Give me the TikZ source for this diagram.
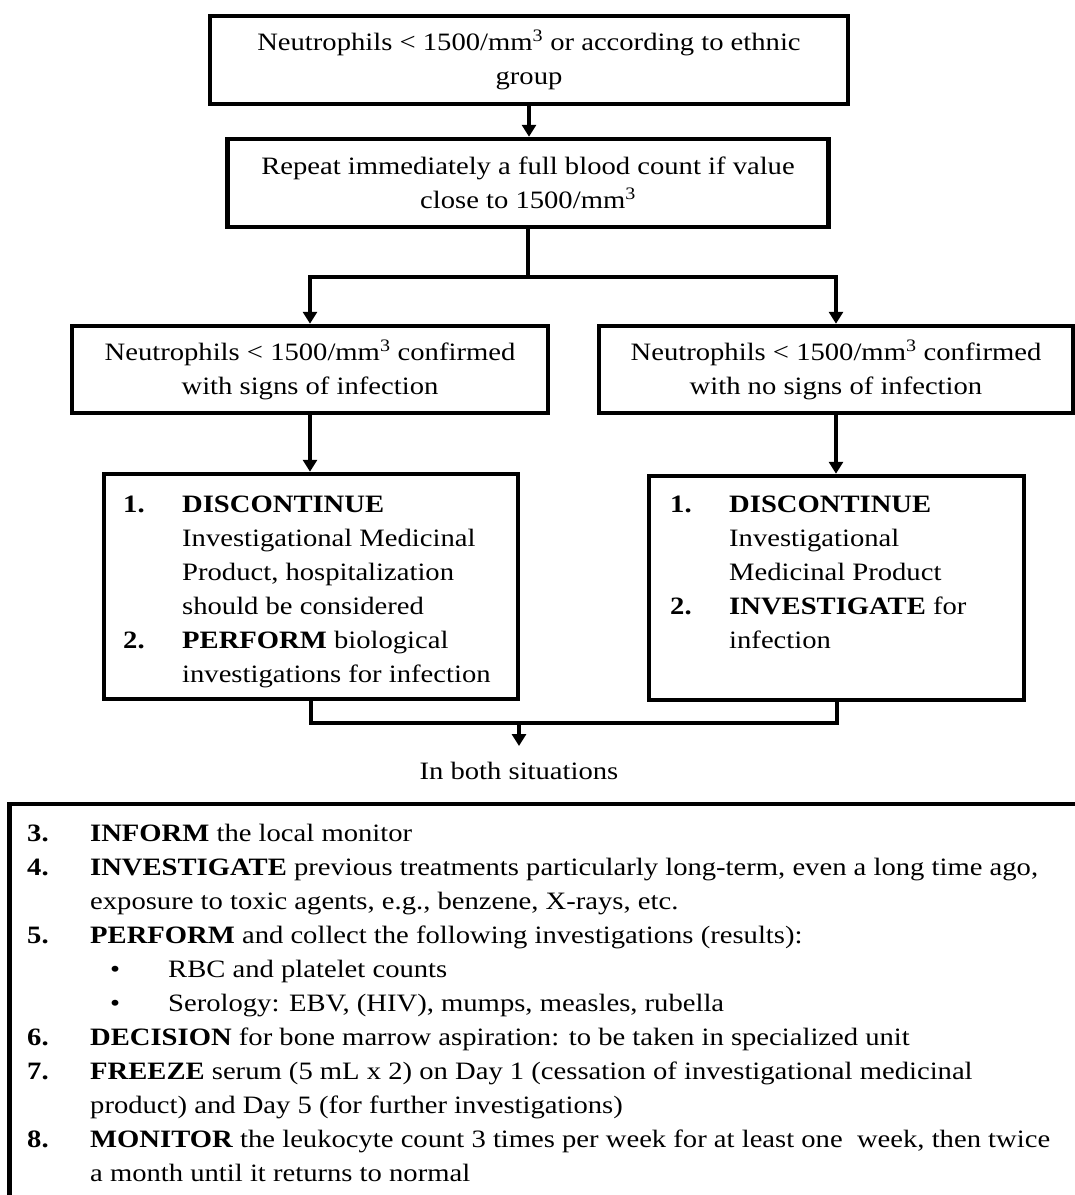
\documentclass[tikz,border=0pt]{standalone}
\usepackage{fontspec}
\setmainfont{Liberation Serif}[FakeStretch=1.145]
\usetikzlibrary{arrows.meta}

\begin{document}
\begin{tikzpicture}[x=1pt, y=-1pt]
  \tikzset{
    box/.style={
      draw,
      line width=4.5pt,
      align=center,
      inner sep=0pt,
      font=\fontsize{25}{34}\selectfont
    },
    steps/.style={
      anchor=base west,
      inner sep=0pt,
      font=\fontsize{25}{34}\selectfont
    },
    link/.style={
      line width=4pt
    },
    arrow/.style={
      line width=4pt,
      -{Triangle[length=12pt,width=14pt]}
    }
  }
  \useasboundingbox (0,0) rectangle (1075,1195);

  % Draw the boxes
    \node[box, minimum width=638pt, minimum height=88pt] at (529, 60) (alarm) {
        Neutrophils < 1500/mm\textsuperscript{3} or according to ethnic\\ group
    };
    \node[box, minimum width=601pt, minimum height=88pt] at (528, 183) (recount) {
        Repeat immediately a full blood count if value\\ close to 1500/mm\textsuperscript{3}
    };
    \node[box, minimum width=476pt, minimum height=87pt] at (310, 369.5) (infect) {
        Neutrophils < 1500/mm\textsuperscript{3} confirmed\\ with signs of infection
    };
    \node[box, minimum width=474pt, minimum height=87pt] at (836, 369.5) (noinfect) {
        Neutrophils < 1500/mm\textsuperscript{3} confirmed\\ with no signs of infection
    };
    \node[box, minimum width=414pt, minimum height=225pt] at (311, 586.5) (stepsinf) {};
    \node[box, minimum width=375pt, minimum height=224pt] at (836.5, 588) (stepsnoinf) {};

  % Texts of the two action boxes
    \node[steps] at (123, 512) (stopinf) {
        \begin{tabular}[t]{@{}p{59pt}@{}l@{}}
          \textbf{1.} & \textbf{DISCONTINUE}\\
                      & Investigational Medicinal\\
                      & Product, hospitalization\\
                      & should be considered\\
          \textbf{2.} & \textbf{PERFORM} biological\\
                      & investigations for infection
        \end{tabular}
    };
    \node[steps] at (670, 512) (stopnoinf) {
        \begin{tabular}[t]{@{}p{59pt}@{}l@{}}
          \textbf{1.} & \textbf{DISCONTINUE}\\
                      & Investigational\\
                      & Medicinal Product\\
          \textbf{2.} & \textbf{INVESTIGATE} for\\
                      & infection
        \end{tabular}
    };

  % Connectors
    \coordinate (split) at (528, 277);
    \coordinate (join) at (519, 723);
    \coordinate (bothtip) at (519, 746);
    \draw[arrow] (alarm.south) -- (alarm.south |- recount.north);
    \draw[link] (recount.south) -- (split);
    \draw[arrow] (split) -| (infect.north);
    \draw[arrow] (split) -| (noinfect.north);
    \draw[arrow] (infect.south) -- (infect.south |- stepsinf.north);
    \draw[arrow] (noinfect.south) -- (noinfect.south |- stepsnoinf.north);
    \draw[link] (stepsinf.south) |- (join) -| (stepsnoinf.south);
    \draw[arrow] (join) -- (bothtip);

    \node[steps, anchor=base] at (519, 779) (both) {In both situations};

  % Common steps, the frame runs off the page
    \draw[line width=4.3pt] (9.5, 1240) |- (1120, 804);
    \node[steps] at (27, 841) (actions) {
        \begin{tabular}[t]{@{}p{63pt}@{}l@{}}
          \textbf{3.} & \textbf{INFORM} the local monitor\\
          \textbf{4.} & \textbf{INVESTIGATE} previous treatments particularly long-term, even a long time ago,\\
                      & exposure to toxic agents, e.g., benzene, X-rays, etc.\\
          \textbf{5.} & \textbf{PERFORM} and collect the following investigations (results):\\
                      & \hspace*{20pt}\makebox[58pt][l]{•}RBC and platelet counts\\
                      & \hspace*{20pt}\makebox[58pt][l]{•}Serology: EBV, (HIV), mumps, measles, rubella\\
          \textbf{6.} & \textbf{DECISION} for bone marrow aspiration: to be taken in specialized unit\\
          \textbf{7.} & \textbf{FREEZE} serum (5 mL x 2) on Day 1 (cessation of investigational medicinal\\
                      & product) and Day 5 (for further investigations)\\
          \textbf{8.} & \textbf{MONITOR} the leukocyte count 3 times per week for at least one\ \ week, then twice\\
                      & a month until it returns to normal
        \end{tabular}
    };

\end{tikzpicture}
\end{document}
